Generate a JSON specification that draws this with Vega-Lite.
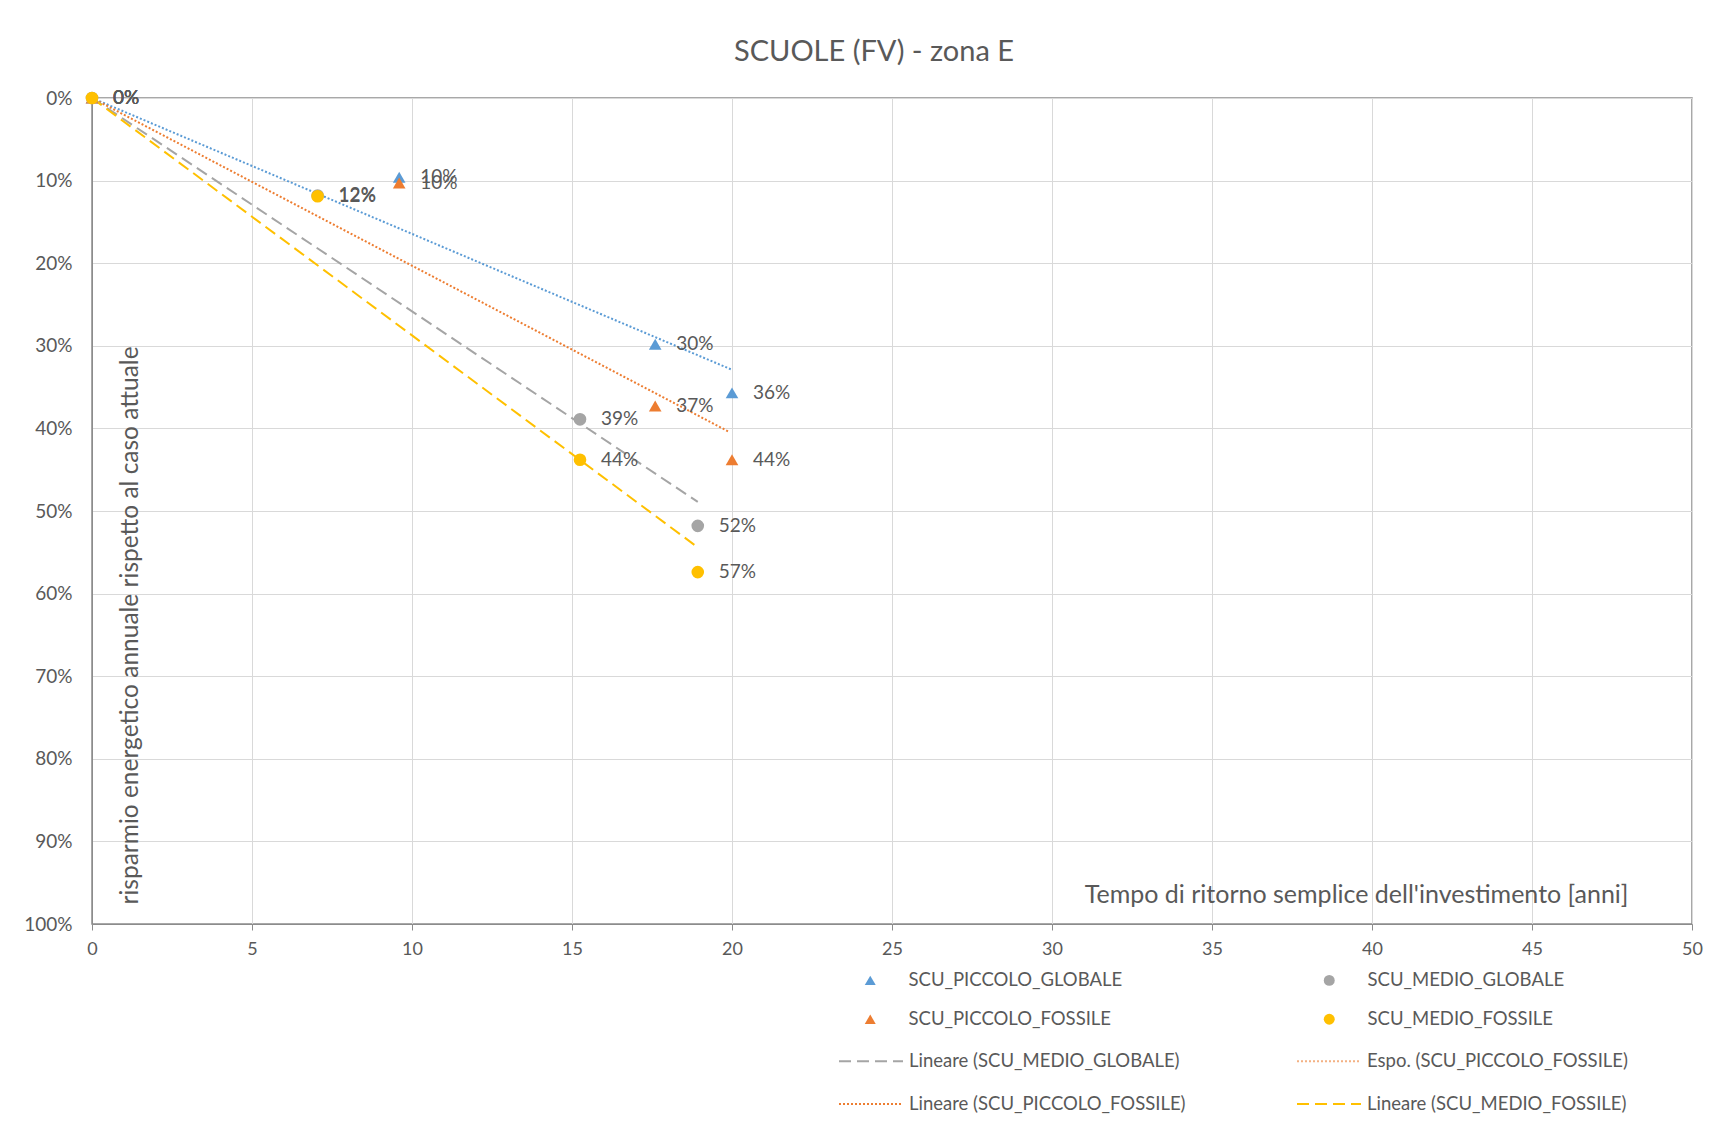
{
  "$schema": "https://vega.github.io/schema/vega-lite/v6.json",
  "width": 1600,
  "height": 826,
  "autosize": {"type": "none"},
  "padding": {"left": 92, "top": 98, "right": 32, "bottom": 208},
  "background": "white",
  "config": {
    "font": "Lato",
    "view": {"stroke": "#8c8c8c", "strokeWidth": 1.5},
    "axis": {"labelColor": "#595959", "titleColor": "#595959", "titleFontWeight": "normal", "gridColor": "#d9d9d9", "domainColor": "#8c8c8c", "tickColor": "#8c8c8c", "labelFlush": false},
    "legend": {"labelColor": "#595959", "labelFontSize": 18.5, "labelFontWeight": "normal", "labelLimit": 500, "padding": 0}
  },
  "title": {"text": "SCUOLE (FV) - zona E", "fontSize": 29, "fontWeight": "normal", "color": "#595959", "anchor": "middle", "frame": "group", "offset": 22, "dx": -18},
  "datasets": {
    "punti": [
      {"serie": "SCU_PICCOLO_GLOBALE", "x": 0, "y": 0},
      {"serie": "SCU_PICCOLO_GLOBALE", "x": 9.6, "y": 0.096},
      {"serie": "SCU_PICCOLO_GLOBALE", "x": 17.6, "y": 0.298},
      {"serie": "SCU_PICCOLO_GLOBALE", "x": 20.0, "y": 0.357},
      {"serie": "SCU_PICCOLO_FOSSILE", "x": 0, "y": 0},
      {"serie": "SCU_PICCOLO_FOSSILE", "x": 9.6, "y": 0.103},
      {"serie": "SCU_PICCOLO_FOSSILE", "x": 17.6, "y": 0.373},
      {"serie": "SCU_PICCOLO_FOSSILE", "x": 20.0, "y": 0.438},
      {"serie": "SCU_MEDIO_GLOBALE", "x": 0, "y": 0},
      {"serie": "SCU_MEDIO_GLOBALE", "x": 7.05, "y": 0.118},
      {"serie": "SCU_MEDIO_GLOBALE", "x": 15.25, "y": 0.389},
      {"serie": "SCU_MEDIO_GLOBALE", "x": 18.93, "y": 0.518},
      {"serie": "SCU_MEDIO_FOSSILE", "x": 0, "y": 0},
      {"serie": "SCU_MEDIO_FOSSILE", "x": 7.05, "y": 0.119},
      {"serie": "SCU_MEDIO_FOSSILE", "x": 15.25, "y": 0.438},
      {"serie": "SCU_MEDIO_FOSSILE", "x": 18.93, "y": 0.574}
    ],
    "tendenze": [
      {"trend": "Lineare (SCU_PICCOLO_GLOBALE)", "x": 0, "y": 0},
      {"trend": "Lineare (SCU_PICCOLO_GLOBALE)", "x": 20.0, "y": 0.329},
      {"trend": "Lineare (SCU_PICCOLO_FOSSILE)", "x": 0, "y": 0},
      {"trend": "Lineare (SCU_PICCOLO_FOSSILE)", "x": 19.9, "y": 0.404},
      {"trend": "Lineare (SCU_MEDIO_GLOBALE)", "x": 0, "y": 0},
      {"trend": "Lineare (SCU_MEDIO_GLOBALE)", "x": 18.93, "y": 0.489},
      {"trend": "Lineare (SCU_MEDIO_FOSSILE)", "x": 0, "y": 0},
      {"trend": "Lineare (SCU_MEDIO_FOSSILE)", "x": 18.93, "y": 0.544}
    ]
  },
  "encoding": {
    "x": {"field": "x", "type": "quantitative",
      "scale": {"domain": [0, 50], "nice": false},
      "axis": {"values": [0, 5, 10, 15, 20, 25, 30, 35, 40, 45, 50], "grid": true, "labelFontSize": 18, "labelPadding": 10, "tickSize": 6,
        "title": "Tempo di ritorno semplice  dell'investimento [anni]", "titleFontSize": 25, "titleX": 1536, "titleY": -30, "titleAlign": "right", "titleBaseline": "middle", "titleAnchor": null}},
    "y": {"field": "y", "type": "quantitative",
      "scale": {"domain": [0, 1], "reverse": true, "nice": false},
      "axis": {"values": [0, 0.1, 0.2, 0.3, 0.4, 0.5, 0.6, 0.7, 0.8, 0.9, 1], "format": ".0%", "grid": true, "ticks": false, "labelFontSize": 19, "labelPadding": 20,
        "title": "risparmio energetico annuale rispetto al caso attuale", "titleFontSize": 24.5, "titleX": 38, "titleY": 806, "titleAngle": -90, "titleAlign": "left", "titleBaseline": "middle"}}
  },
  "layer": [
    {
      "data": {"name": "tendenze"},
      "mark": {"type": "line", "strokeWidth": 2},
      "encoding": {
        "stroke": {"field": "trend", "type": "nominal",
          "scale": {"domain": ["Lineare (SCU_MEDIO_GLOBALE)", "Espo. (SCU_PICCOLO_FOSSILE)", "Lineare (SCU_PICCOLO_FOSSILE)", "Lineare (SCU_MEDIO_FOSSILE)", "Lineare (SCU_PICCOLO_GLOBALE)"],
            "range": ["#a5a5a5", "#f4b183", "#ed7d31", "#ffc000", "#5b9bd5"]},
          "legend": {"title": null, "orient": "none", "direction": "horizontal", "legendX": 746, "legendY": 930, "columns": 2, "columnPadding": 107, "rowPadding": -25, "symbolType": "stroke", "symbolSize": 4096, "symbolStrokeWidth": 2, "labelOffset": 5,
            "values": ["Lineare (SCU_MEDIO_GLOBALE)", "Espo. (SCU_PICCOLO_FOSSILE)", "Lineare (SCU_PICCOLO_FOSSILE)", "Lineare (SCU_MEDIO_FOSSILE)"]}},
        "strokeDash": {"field": "trend", "type": "nominal",
          "scale": {"domain": ["Lineare (SCU_MEDIO_GLOBALE)", "Espo. (SCU_PICCOLO_FOSSILE)", "Lineare (SCU_PICCOLO_FOSSILE)", "Lineare (SCU_MEDIO_FOSSILE)", "Lineare (SCU_PICCOLO_GLOBALE)"],
            "range": [[12, 6], [2, 2], [2, 2], [12, 6], [2, 2]]},
          "legend": {"title": null, "orient": "none", "direction": "horizontal", "legendX": 746, "legendY": 930, "columns": 2, "columnPadding": 107, "rowPadding": -25, "symbolType": "stroke", "symbolSize": 4096, "symbolStrokeWidth": 2, "labelOffset": 5,
            "values": ["Lineare (SCU_MEDIO_GLOBALE)", "Espo. (SCU_PICCOLO_FOSSILE)", "Lineare (SCU_PICCOLO_FOSSILE)", "Lineare (SCU_MEDIO_FOSSILE)"]}}
      }
    },
    {
      "data": {"name": "punti"},
      "mark": {"type": "point", "filled": true, "opacity": 1, "size": 160},
      "encoding": {
        "fill": {"field": "serie", "type": "nominal",
          "scale": {"domain": ["SCU_PICCOLO_GLOBALE", "SCU_MEDIO_GLOBALE", "SCU_PICCOLO_FOSSILE", "SCU_MEDIO_FOSSILE"], "range": ["#5b9bd5", "#a5a5a5", "#ed7d31", "#ffc000"]},
          "legend": {"title": null, "orient": "none", "direction": "horizontal", "legendX": 769, "legendY": 873, "columns": 2, "columnPadding": 197, "rowPadding": 20, "symbolSize": 120, "labelOffset": 29}},
        "shape": {"field": "serie", "type": "nominal",
          "scale": {"domain": ["SCU_PICCOLO_GLOBALE", "SCU_MEDIO_GLOBALE", "SCU_PICCOLO_FOSSILE", "SCU_MEDIO_FOSSILE"], "range": ["triangle-up", "circle", "triangle-up", "circle"]},
          "legend": {"title": null, "orient": "none", "direction": "horizontal", "legendX": 769, "legendY": 873, "columns": 2, "columnPadding": 197, "rowPadding": 20, "symbolSize": 120, "labelOffset": 29}}
      }
    },
    {
      "data": {"name": "punti"},
      "mark": {"type": "text", "align": "left", "baseline": "middle", "dx": 21, "fontSize": 19, "color": "#595959"},
      "encoding": {
        "text": {"field": "y", "type": "quantitative", "format": ".0%"}
      }
    }
  ]
}
